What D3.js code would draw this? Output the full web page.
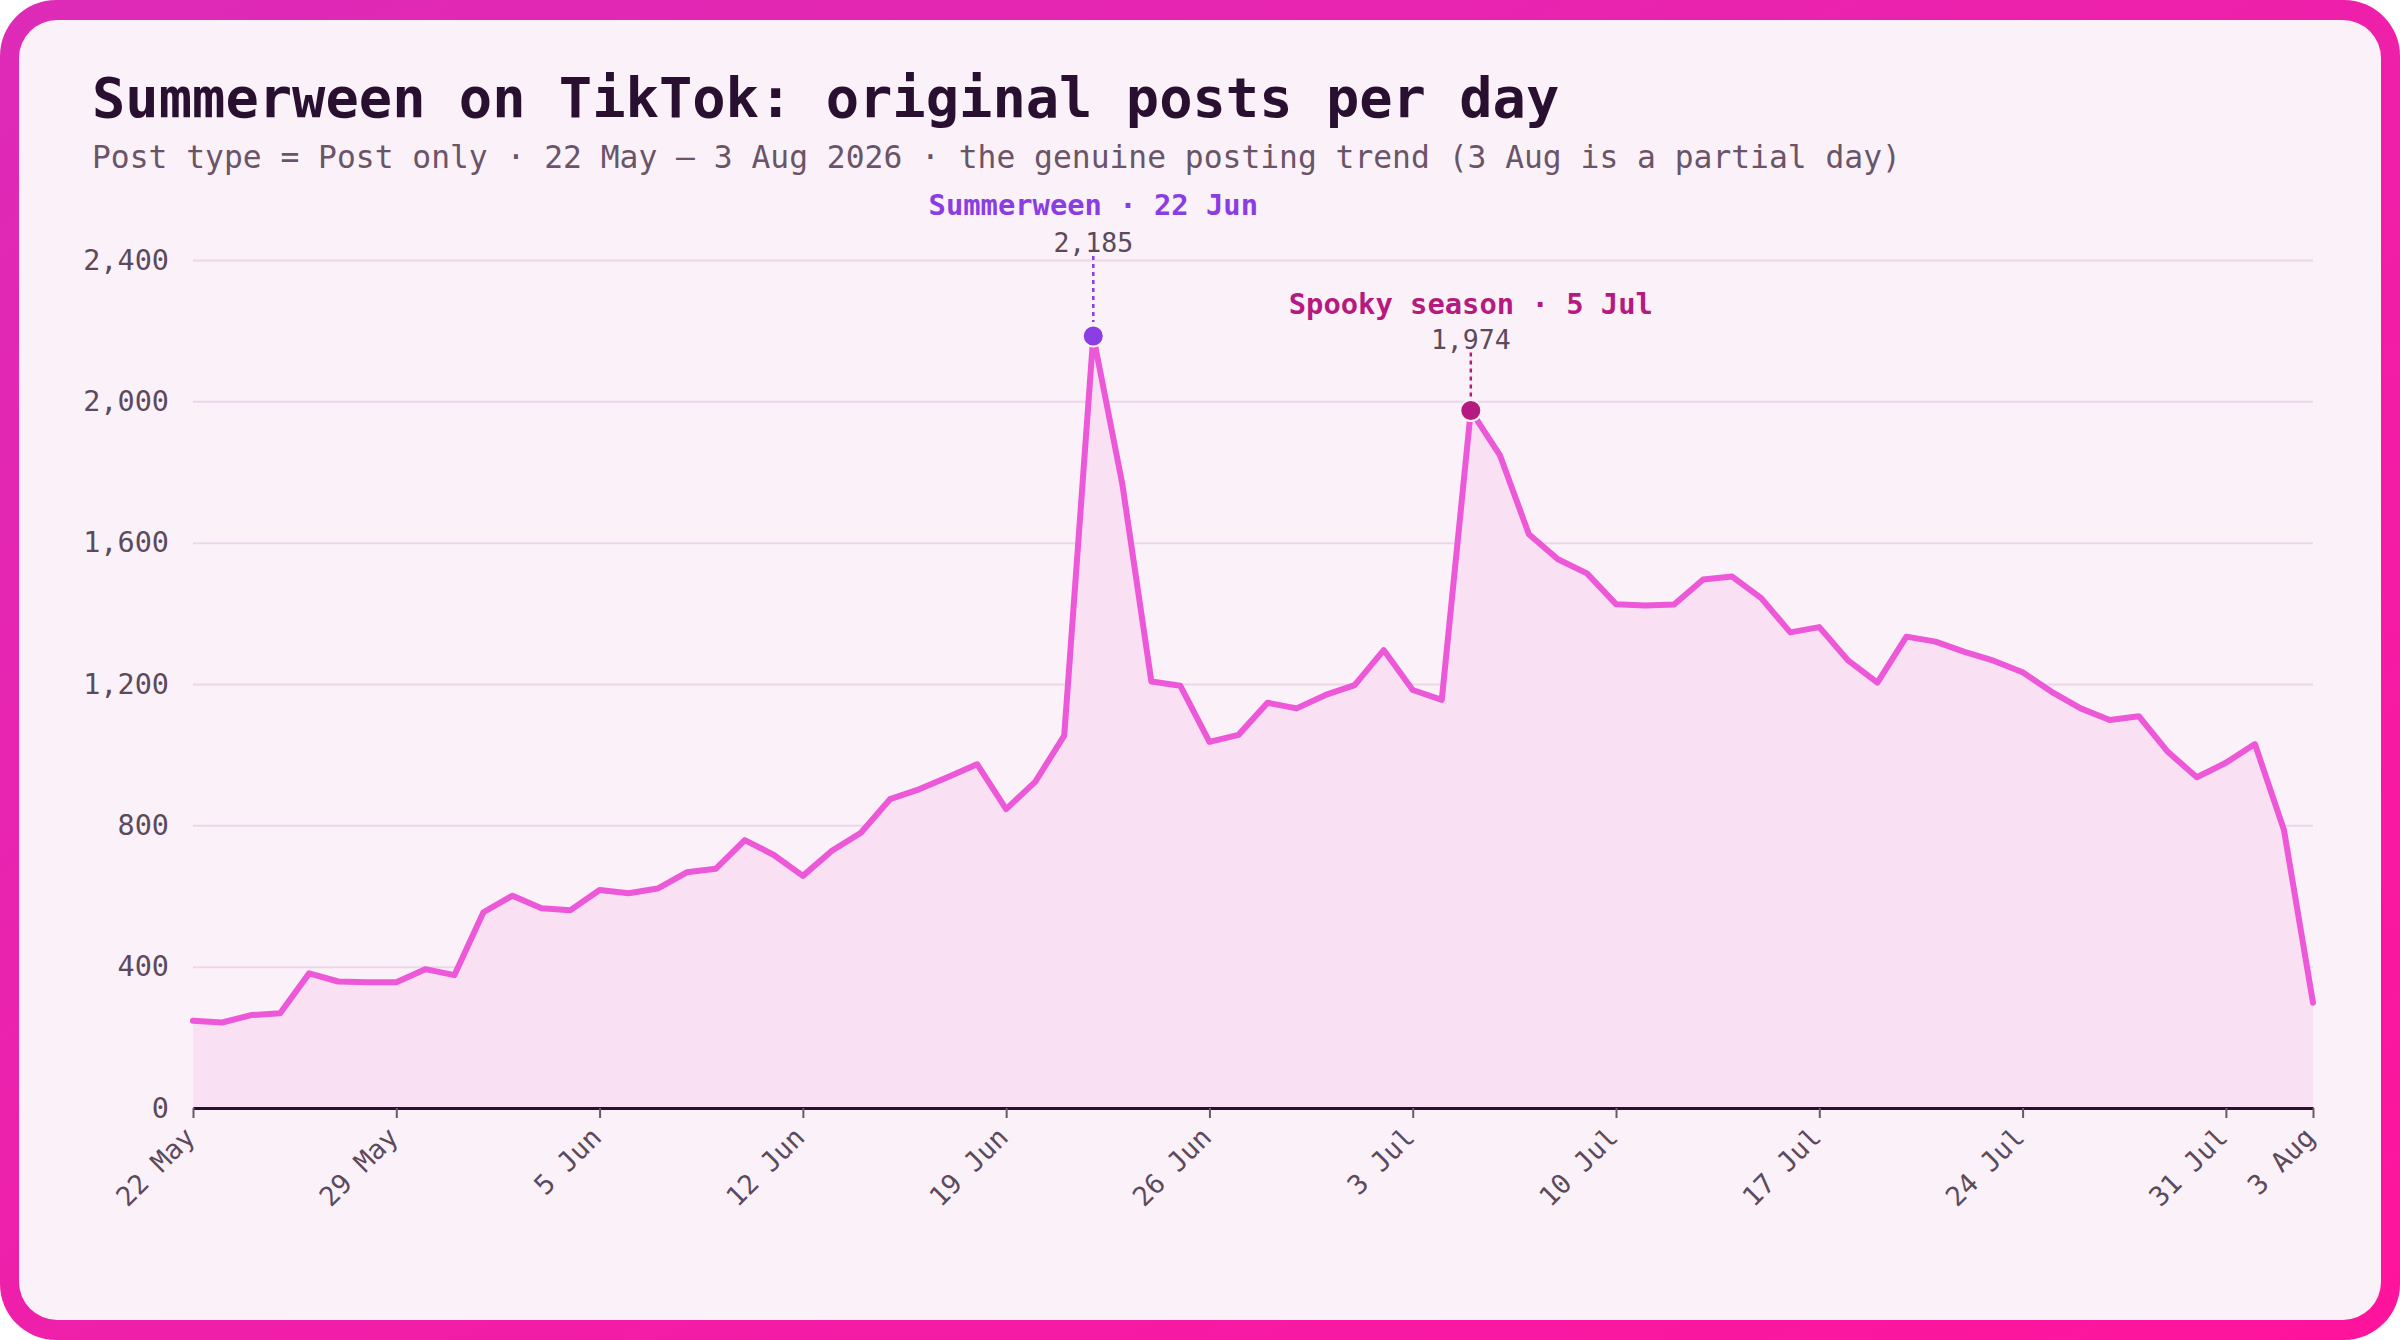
<!DOCTYPE html>
<html>
<head>
<meta charset="utf-8">
<script src="https://cdn.jsdelivr.net/npm/d3@7"></script>
<style>
  html, body { margin: 0; padding: 0; background: #ffffff; }
  svg { display: block; }
  text { font-family: "DejaVu Sans Mono", monospace; }
</style>
</head>
<body>
<svg id="chart" width="2400" height="1340"></svg>
<script>
// ---- DATA ----
const startDate = "2026-05-22";
const endDate = "2026-08-03";
const postsPerDay = [
  247, 242, 263, 268, 381, 358, 356, 356, 393, 376,
  554, 601, 565, 560, 617, 608, 621, 667, 677, 758,
  716, 657, 728, 779, 874, 902, 937, 973, 846, 923,
  1054, 2185, 1766, 1207, 1195, 1036, 1056, 1147, 1131, 1169,
  1197, 1296, 1183, 1155, 1974, 1848, 1624, 1553, 1513, 1426,
  1422, 1425, 1496, 1504, 1443, 1346, 1361, 1266, 1204, 1334,
  1320, 1291, 1266, 1233, 1178, 1131, 1098, 1109, 1008, 936,
  977, 1030, 787, 298
];
const yTicks = [0, 400, 800, 1200, 1600, 2000, 2400];
const xTickDates = ["2026-05-22","2026-05-29","2026-06-05","2026-06-12","2026-06-19","2026-06-26",
                    "2026-07-03","2026-07-10","2026-07-17","2026-07-24","2026-07-31","2026-08-03"];
const annotationLabels = ["Summerween · 22 Jun", "Spooky season · 5 Jul"];
const annotationDates = ["2026-06-22", "2026-07-05"];
const titleText = "Summerween on TikTok: original posts per day";
const subtitleText = "Post type = Post only · 22 May – 3 Aug 2026 · the genuine posting trend (3 Aug is a partial day)";

// ---- BUILD ----
const parse = d3.utcParse("%Y-%m-%d");
const t0 = parse(startDate);
const series = postsPerDay.map((v, i) => ({ date: d3.utcDay.offset(t0, i), value: v }));

const W = 2400, H = 1340;
const M = { left: 193, right: 2313, top: 260, bottom: 1108 };
const svg = d3.select("#chart");

const defs = svg.append("defs");
const grad = defs.append("linearGradient").attr("id", "frame").attr("x1", "0").attr("y1", "0").attr("x2", "1").attr("y2", "1");
grad.append("stop").attr("offset", "0%").attr("stop-color", "#dd2bb8");
grad.append("stop").attr("offset", "100%").attr("stop-color", "#ff149c");

svg.append("rect").attr("x", 0).attr("y", 0).attr("width", W).attr("height", H)
  .attr("rx", 56).attr("fill", "url(#frame)");
svg.append("rect").attr("x", 19).attr("y", 20).attr("width", W - 38).attr("height", H - 40)
  .attr("rx", 38).attr("fill", "#faf1f9");

svg.append("text").attr("x", 92).attr("y", 117)
  .attr("font-size", 55.4).attr("font-weight", "bold").attr("fill", "#2a1030")
  .text(titleText);
svg.append("text").attr("x", 92).attr("y", 168)
  .attr("font-size", 31.3).attr("fill", "#6a5468")
  .text(subtitleText);

const x = d3.scaleUtc().domain([parse(startDate), parse(endDate)]).range([M.left, M.right]);
const y = d3.scaleLinear().domain([0, 2400]).range([M.bottom, M.top]);

// gridlines + y labels
const yAxis = d3.axisLeft(y).tickValues(yTicks).tickSize(-(M.right - M.left)).tickPadding(24)
  .tickFormat(d3.format(","));
const gy = svg.append("g").attr("transform", `translate(${M.left},0)`).call(yAxis);
gy.select(".domain").remove();
gy.selectAll(".tick line").attr("stroke", "#ecd6e8").attr("stroke-width", 2)
  .filter(d => d === 0).remove();
gy.selectAll(".tick text").attr("font-size", 28.5).attr("fill", "#5c4a5c")
  .attr("font-family", "DejaVu Sans Mono");

// area + line
const area = d3.area().x(d => x(d.date)).y0(y(0)).y1(d => y(d.value));
const line = d3.line().x(d => x(d.date)).y(d => y(d.value));
svg.append("path").datum(series).attr("d", area).attr("fill", "#f9e1f3");
svg.append("path").datum(series).attr("d", line).attr("fill", "none")
  .attr("stroke", "#ec58d7").attr("stroke-width", 6).attr("stroke-linejoin", "round").attr("stroke-linecap", "round");

// x axis
const xAxis = d3.axisBottom(x).tickValues(xTickDates.map(parse)).tickSize(10).tickSizeOuter(0)
  .tickFormat(d3.utcFormat("%-d %b"));
const gx = svg.append("g").attr("transform", `translate(0,${M.bottom})`).call(xAxis);
gx.select(".domain").attr("stroke", "#2a1030").attr("stroke-width", 3);
gx.selectAll(".tick line").attr("stroke", "#6b586b").attr("stroke-width", 2);
gx.selectAll(".tick text").attr("font-size", 27).attr("fill", "#5c4a5c")
  .attr("font-family", "DejaVu Sans Mono")
  .attr("text-anchor", "end").attr("dy", null).attr("y", null)
  .attr("transform", "translate(3,31) rotate(-45)");

// annotations
const annStyles = [
  { color: "#8a3de2", titleOff: 121, valueOff: 84, lineTop: 80, lineBottom: 14 },
  { color: "#b51a80", titleOff: 97, valueOff: 62, lineTop: 58, lineBottom: 14 }
];
annotationDates.forEach((ds, i) => {
  const dt = parse(ds);
  const pt = series.find(s => +s.date === +dt);
  const cx = x(pt.date), cy = y(pt.value), st = annStyles[i];
  svg.append("line").attr("x1", cx).attr("x2", cx).attr("y1", cy - st.lineTop).attr("y2", cy - st.lineBottom)
    .attr("stroke", st.color).attr("stroke-width", 2.5).attr("stroke-dasharray", "4,4");
  svg.append("circle").attr("cx", cx).attr("cy", cy).attr("r", 10.5)
    .attr("fill", st.color).attr("stroke", "#faf1f9").attr("stroke-width", 2);
  svg.append("text").attr("x", cx).attr("y", cy - st.titleOff).attr("text-anchor", "middle")
    .attr("font-size", 28.8).attr("font-weight", "bold").attr("fill", st.color)
    .text(annotationLabels[i]);
  svg.append("text").attr("x", cx).attr("y", cy - st.valueOff).attr("text-anchor", "middle")
    .attr("font-size", 26.5).attr("fill", "#5c4a5c")
    .text(d3.format(",")(pt.value));
});
</script>
</body>
</html>
